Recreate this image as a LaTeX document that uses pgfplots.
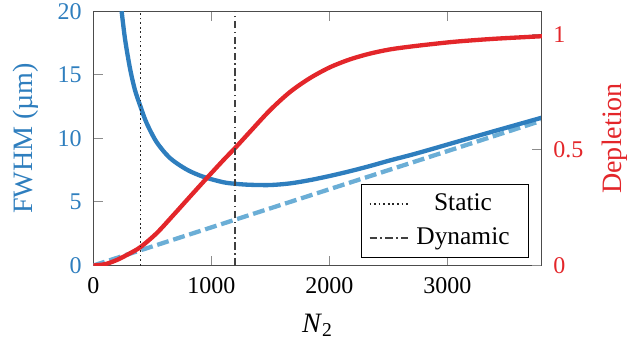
\documentclass[border=0pt]{standalone}
\usepackage{fontspec}
\setmainfont{Liberation Serif}
\usepackage{calc}
\usepackage{pgfplots}
\pgfplotsset{compat=1.18}
\definecolor{cblue}{RGB}{46,126,190}
\definecolor{clblue}{RGB}{107,174,214}
\definecolor{cred}{RGB}{227,38,42}
\begin{document}
\begin{tikzpicture}
\pgfplotsset{
  every axis/.append style={
    scale only axis, width=187pt, height=106pt,
    xmin=0, xmax=3800,
    tick style={black!45, thin},
    axis line style={black!70},
    tick align=inside, major tick length=4pt,
    /pgf/number format/assume math mode=true,
    /pgf/number format/1000 sep={},
    scaled ticks=false,
    tick label style={font=\fontsize{10}{12}\selectfont},
    label style={font=\fontsize{11.7}{14}\selectfont},
  }
}
\begin{axis}[
  name=ax1,
  axis y line*=left,
  ymin=0, ymax=20, ytick={0,5,10,15,20},
  xtick={0,1000,2000,3000},
  xticklabel style={yshift=-1.5pt},
  xlabel={\textit{N}\textsubscript{2}},
  xlabel style={yshift=-1.5pt},
  ylabel={FWHM (µm)},
  ylabel style={text=cblue, yshift=1.2pt},
  yticklabel style={text=cblue, xshift=-1.3pt},
]
\addplot[clblue, line width=1.8pt, dash pattern=on 5pt off 2pt] coordinates {(0,0) (3800,11.4)};
\addplot[cblue, line width=1.8pt, smooth] coordinates {
(240,20) (269,17.8) (311,15.5) (353,13.8) (400,12.5) (452,11.2) (537,9.7)
(650,8.45) (791,7.55) (932,6.98) (1102,6.55) (1215,6.42) (1328,6.35)
(1497,6.33) (1667,6.46) (1836,6.72) (2006,7.05) (2175,7.42) (2345,7.83)
(2514,8.27) (2684,8.68) (2853,9.12) (3080,9.73) (3400,10.58) (3800,11.63)};
\end{axis}
\begin{axis}[
  name=ax2,
  axis y line*=right, axis x line=none,
  ymin=0, ymax=1.1, ytick={0,0.5,1},
  ylabel={Depletion},
  ylabel style={text=cred, yshift=-1pt},
  yticklabel style={text=cred, xshift=1.3pt},
  legend cell align=left,
  legend style={at={(0.972,0.03)}, anchor=south east, draw=black, fill=white,
    font=\fontsize{10.6}{13}\selectfont, row sep=1.5pt, inner xsep=3pt},
]
\addplot[cred, line width=1.8pt, smooth, forget plot] coordinates {
(0,0) (100,0.006) (200,0.024) (300,0.05) (400,0.08) (537,0.14) (678,0.218)
(819,0.298) (961,0.378) (1102,0.456) (1215,0.516) (1328,0.579) (1497,0.672)
(1667,0.751) (1836,0.811) (2006,0.858) (2175,0.892) (2345,0.917) (2514,0.935)
(2684,0.947) (2853,0.957) (3080,0.969) (3400,0.981) (3800,0.992)};
\addplot[black!85, line width=0.8pt, dash pattern=on 0.7pt off 1.2pt] coordinates {(400,0) (400,1.1)};
\addlegendentry{\makebox[\widthof{Dynamic}][c]{Static}\hspace*{3pt}}
\addplot[black!75, line width=0.9pt, dash pattern=on 3pt off 1.5pt on 0.6pt off 1.5pt] coordinates {(1200,0) (1200,1.1)};
\addlegendentry{Dynamic\hspace*{3pt}}
\end{axis}
\pgfresetboundingbox
\path ([shift={(-38.9pt,-33pt)}]ax1.south west) rectangle ([shift={(35.5pt,4.7pt)}]ax1.north east);
\end{tikzpicture}
\end{document}
